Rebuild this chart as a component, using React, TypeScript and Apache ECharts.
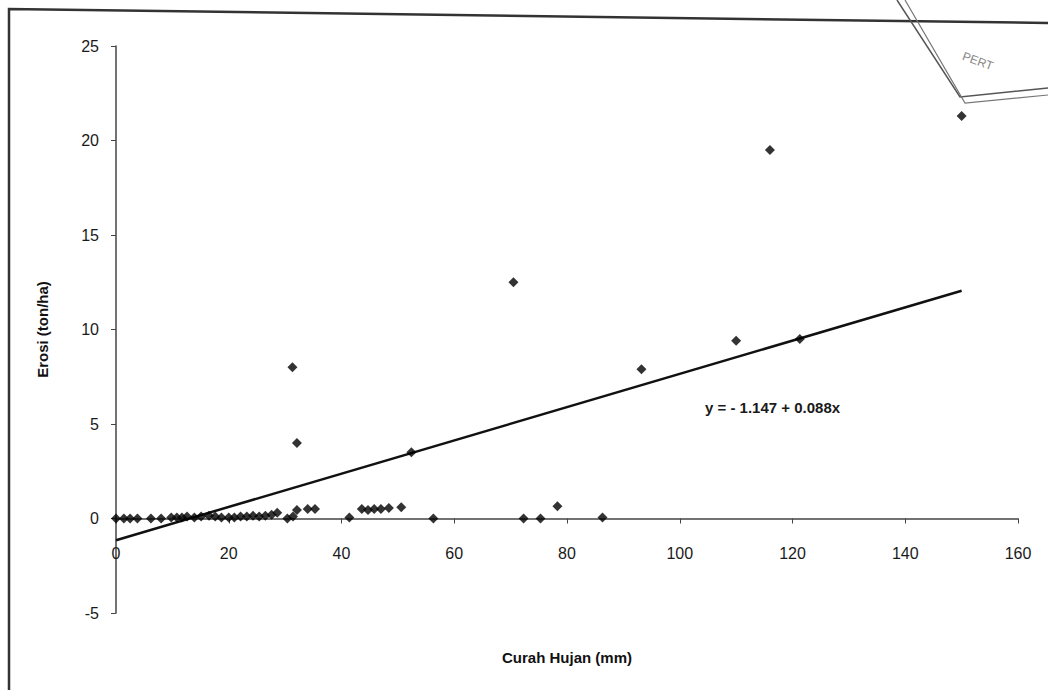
import React, { useEffect, useRef } from "react";
import * as echarts from "echarts";

// Rainfall (mm) vs erosion (ton/ha)
const rainfall: number[] = [
  0, 1.4, 2.5, 3.8, 6.2, 8.0, 9.8, 10.8, 11.7, 12.6, 13.9, 15.1, 16.5, 17.6,
  18.7, 20.0, 21.0, 22.1, 23.2, 24.3, 25.4, 26.5, 27.6, 28.6, 30.4, 31.4, 32.1,
  34.0, 35.3, 31.3, 32.1, 41.4, 43.6, 44.7, 45.8, 47.0, 48.4, 50.6, 52.4, 56.3,
  70.5, 72.3, 75.3, 78.3, 86.3, 93.2, 110.0, 116.0, 121.3, 150.0,
];
const erosion: number[] = [
  0, 0, 0, 0, 0, 0, 0.05, 0.05, 0.05, 0.1, 0.05, 0.1, 0.15, 0.1,
  0.05, 0.05, 0.05, 0.1, 0.1, 0.15, 0.1, 0.15, 0.2, 0.3, 0, 0.1, 0.45,
  0.5, 0.5, 8.0, 4.0, 0.05, 0.5, 0.45, 0.5, 0.5, 0.55, 0.6, 3.5, 0,
  12.5, 0, 0, 0.65, 0.05, 7.9, 9.4, 19.5, 9.5, 21.3,
];

// Regression: y = -1.147 + 0.088x
const intercept = -1.147;
const slope = 0.088;
const fitRange: number[] = [0, 150];
const equationLabel = "y = - 1.147 + 0.088x";
const xTitle = "Curah Hujan (mm)";
const yTitle = "Erosi (ton/ha)";

const xTicks = { min: 0, max: 160, interval: 20 };
const yTicks = { min: -5, max: 25, interval: 5 };

export default function App() {
  const ref = useRef<HTMLDivElement>(null);
  useEffect(() => {
    if (!ref.current) return;
    const chart = echarts.init(ref.current, undefined, { renderer: "svg" });
    const pts = rainfall.map((x, i) => [x, erosion[i]]);
    const fit = fitRange.map((x) => [x, intercept + slope * x]);
    const font = "'Liberation Sans', Arial, sans-serif";
    chart.setOption({
      animation: false,
      backgroundColor: "#ffffff",
      grid: { left: 116, right: 30, top: 46, bottom: 77, containLabel: false, outerBoundsMode: "none" },
      xAxis: {
        type: "value",
        min: xTicks.min,
        max: xTicks.max,
        interval: xTicks.interval,
        axisLine: { onZero: true, lineStyle: { color: "#444", width: 1.5 } },
        axisTick: { show: true, inside: false, length: 5, lineStyle: { color: "#444" } },
        axisLabel: { margin: -68, fontFamily: font, fontSize: 16, color: "#1a1a1a" },
        splitLine: { show: false },
      },
      yAxis: {
        type: "value",
        min: yTicks.min,
        max: yTicks.max,
        interval: yTicks.interval,
        name: yTitle,
        nameLocation: "middle",
        nameGap: 66,
        nameRotate: 90,
        nameTextStyle: { fontFamily: font, fontSize: 15, fontWeight: "bold", color: "#111" },
        axisLine: { show: true, onZero: false, lineStyle: { color: "#444", width: 1.5 } },
        axisTick: { show: true, length: 5, lineStyle: { color: "#444" } },
        axisLabel: { margin: 17, fontFamily: font, fontSize: 16, color: "#1a1a1a" },
        splitLine: { show: false },
      },
      series: [
        {
          type: "line",
          data: fit,
          symbol: "none",
          lineStyle: { color: "#111", width: 2.5 },
          z: 2,
        },
        {
          type: "scatter",
          data: pts,
          symbol: "diamond",
          symbolSize: 10,
          itemStyle: { color: "#000" },
          z: 3,
        },
      ],
      graphic: [
        {
          type: "text",
          left: 705,
          top: 400,
          style: { text: equationLabel, fontFamily: font, fontSize: 15, fontWeight: "bold", fill: "#1a1a1a" },
        },
        {
          type: "text",
          x: 567,
          y: 657,
          style: {
            text: xTitle,
            fontFamily: font,
            fontSize: 15,
            fontWeight: "bold",
            fill: "#111",
            align: "center",
            verticalAlign: "middle",
          },
        },
        {
          type: "polyline",
          shape: { points: [[9, 690], [9, 9], [1048, 23]] },
          style: { stroke: "#333", lineWidth: 2.5, fill: "none" },
        },
        {
          type: "polyline",
          shape: { points: [[897, 0], [960, 97], [1048, 88]] },
          style: { stroke: "#555", lineWidth: 1.5, fill: "none" },
        },
        {
          type: "polyline",
          shape: { points: [[905, 0], [965, 103], [1048, 95]] },
          style: { stroke: "#777", lineWidth: 1.2, fill: "none" },
        },
        {
          type: "text",
          x: 965,
          y: 50,
          rotation: -0.35,
          style: { text: "PERT", fontFamily: font, fontSize: 12, fill: "#888" },
        },
      ],
    });
    return () => chart.dispose();
  }, []);
  return (
    <div
      ref={ref}
      style={{ position: "fixed", left: 0, top: 0, width: 1048, height: 690 }}
    />
  );
}
